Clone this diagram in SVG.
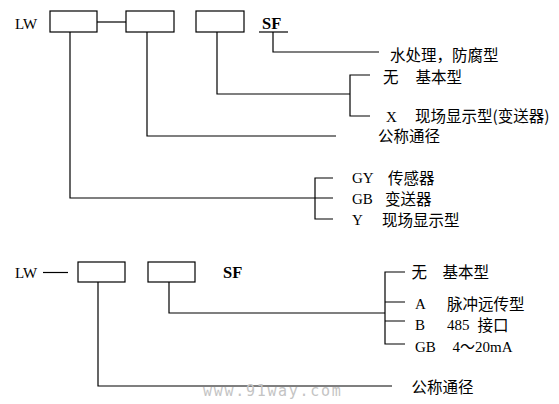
<svg xmlns="http://www.w3.org/2000/svg" width="559" height="404" viewBox="0 0 559 404">
<style>
.ln{stroke:#000;stroke-width:1.2;fill:none}
.bx{stroke:#000;stroke-width:1.2;fill:#fff}
.t{font-family:"Liberation Serif","Noto Sans CJK SC",serif;font-size:15px;fill:#000}
.c{font-family:"Noto Sans CJK SC","Liberation Serif",sans-serif;font-size:15.5px;fill:#000}
.b{font-weight:bold;font-size:16.5px}
.wm{font-family:"DejaVu Sans Mono",monospace;font-size:15px;fill:#c4c4c4;letter-spacing:1.7px}
</style>
<rect width="559" height="404" fill="#fff"/>
<g id="connectors">
<path class="ln" d="M97,22H126"/>
<path class="ln" d="M259,32H288"/>
<path class="ln" d="M273,32V52H379"/>
<path class="ln" d="M217,32V94H350"/>
<path class="ln" d="M370,75H350V116H370"/>
<path class="ln" d="M147,32V136H336"/>
<path class="ln" d="M70,32V198H333"/>
<path class="ln" d="M333,178H315V219H333"/>
<path class="ln" d="M43,272.5H68"/>
<path class="ln" d="M98,282V386H392"/>
<path class="ln" d="M169,282V313H385"/>
<path class="ln" d="M405,272H385V344H405"/>
<path class="ln" d="M385,302H405M385,321H405"/>
</g>
<g id="top-model">
<text class="t" x="15" y="28.5">LW</text>
<rect id="box1" class="bx" x="50" y="11" width="47" height="21"/>
<rect id="box2" class="bx" x="126" y="11" width="48" height="21"/>
<rect id="box3" class="bx" x="196" y="11" width="48" height="21"/>
<text class="t b" x="262" y="28.5">SF</text>
</g>
<g id="top-sf-label"><text class="c" x="390" y="60.5">水处理，防腐型</text></g>
<g id="top-box3-labels">
<text class="c" x="383" y="82.5">无</text>
<text class="c" x="415.5" y="82.5">基本型</text>
<text class="t" x="386" y="122">X</text>
<text class="c" x="415" y="122">现场显示型(变送器)</text>
</g>
<g id="top-box2-label"><text class="c" x="378" y="142">公称通径</text></g>
<g id="top-box1-labels">
<text class="t" x="352" y="183">GY</text>
<text class="c" x="388" y="184">传感器</text>
<text class="t" x="352" y="204">GB</text>
<text class="c" x="385" y="205">变送器</text>
<text class="t" x="352" y="225">Y</text>
<text class="c" x="382" y="226">现场显示型</text>
</g>
<g id="bottom-model">
<text class="t" x="15" y="278">LW</text>
<rect id="boxA" class="bx" x="78" y="262" width="47" height="20"/>
<rect id="boxB" class="bx" x="148" y="262" width="47" height="20"/>
<text class="t b" x="223" y="277.5">SF</text>
</g>
<g id="bottom-boxB-labels">
<text class="c" x="411.5" y="277.5">无</text>
<text class="c" x="442.5" y="277.5">基本型</text>
<text class="t" x="415" y="309">A</text>
<text class="c" x="447" y="310">脉冲远传型</text>
<text class="t" x="415" y="330">B</text>
<text class="t" x="447" y="330">485</text>
<text class="c" x="477.5" y="331">接口</text>
<text class="t" x="415" y="351.5">GB</text>
<text class="t" x="452.5" y="351.5">4～20mA</text>
</g>
<g id="bottom-boxA-label"><text class="c" x="411.5" y="392.5">公称通径</text></g>
<text class="wm" x="203" y="396">www.91way.com</text>
</svg>
